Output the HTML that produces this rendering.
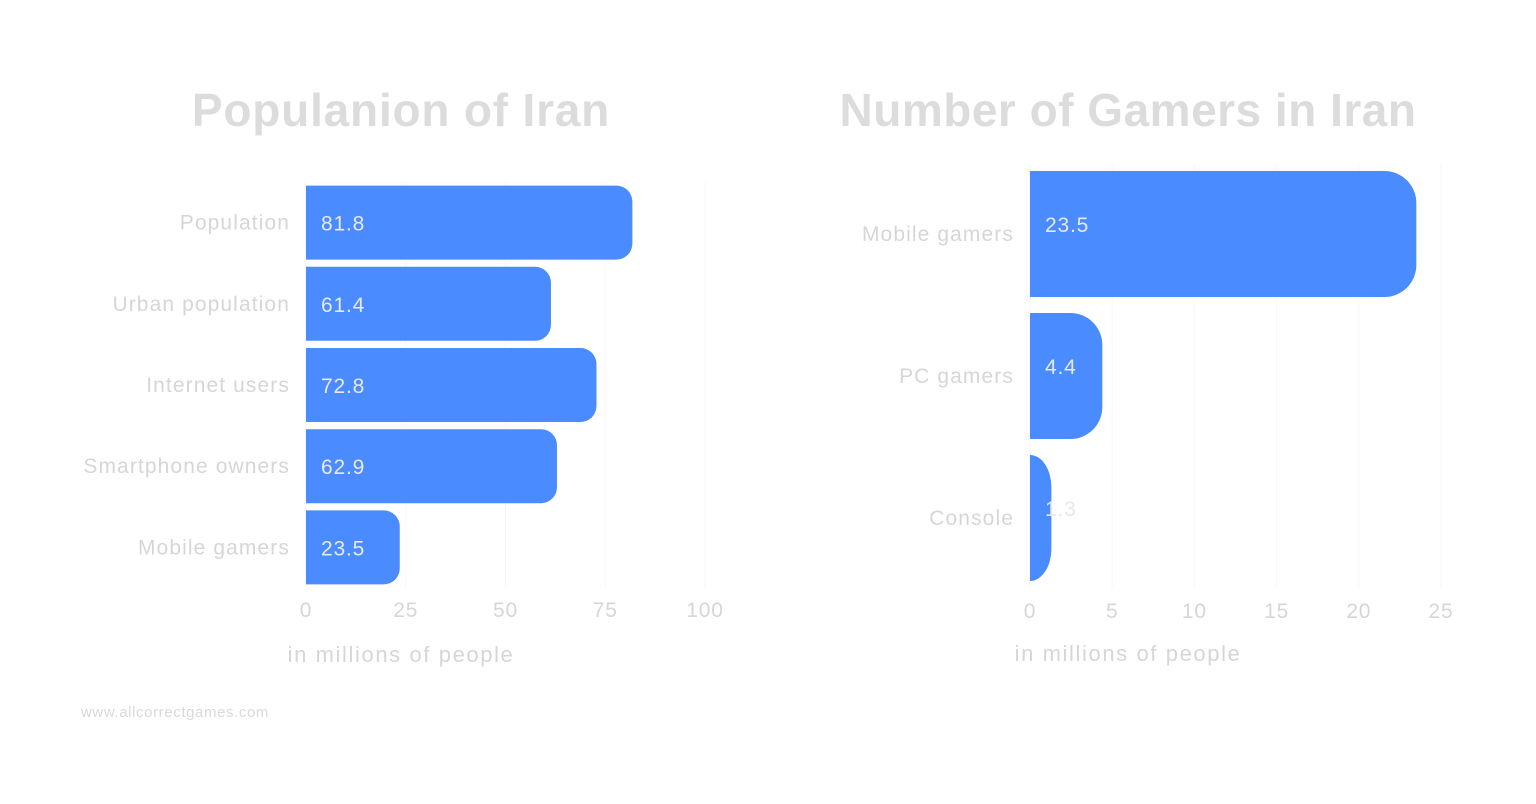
<!DOCTYPE html>
<html><head><meta charset="utf-8"><style>
html,body{margin:0;padding:0;background:#fff;}
svg{display:block;font-family:"Liberation Sans",sans-serif;}
</style></head><body>
<svg id="chart" width="1536" height="804" viewBox="0 0 1536 804">
<text x="401" y="126" text-anchor="middle" font-size="46" font-weight="bold" letter-spacing="0.8" fill="#dcdcdc">Populanion of Iran</text>
<text x="1128" y="126" text-anchor="middle" font-size="46" font-weight="bold" letter-spacing="0.5" fill="#dcdcdc">Number of Gamers in Iran</text>
<text x="401" y="662" text-anchor="middle" font-size="22" letter-spacing="1.6" fill="#d6d6d6">in millions of people</text>
<text x="1128" y="661" text-anchor="middle" font-size="22" letter-spacing="1.6" fill="#d6d6d6">in millions of people</text>
<text x="81" y="717" font-size="15" letter-spacing="0.6" fill="#d9d9d9">www.allcorrectgames.com</text>
<g id="g1"></g><g id="g2"></g>
</svg>
<script>
const leftCategories=["Population","Urban population","Internet users","Smartphone owners","Mobile gamers"];
const leftValues=[81.8,61.4,72.8,62.9,23.5];
const leftTicks=[0,25,50,75,100];
const rightCategories=["Mobile gamers","PC gamers","Console"];
const rightValues=[23.5,4.4,1.3];
const rightTicks=[0,5,10,15,20,25];
const NS="http://www.w3.org/2000/svg";
function mk(tag,attrs,parent){const e=document.createElementNS(NS,tag);for(const k in attrs)e.setAttribute(k,attrs[k]);parent.appendChild(e);return e;}
function draw(g,cats,vals,ticks,o){
  const x=v=>o.x0+(v-ticks[0])/(ticks[ticks.length-1]-ticks[0])*(o.x1-o.x0);
  const band=(o.yb-o.yt)/cats.length;
  ticks.forEach((t,i)=>{
    const l=mk('line',{x1:x(t),x2:x(t),y1:o.yt,y2:o.yb,stroke:'#f7f7f7','stroke-width':1},g);
    
    
    const tx=mk('text',{x:x(t),y:o.yb+29,'text-anchor':'middle','font-size':21,'letter-spacing':0.8,fill:'#d6d6d6'},g);
    tx.textContent=t;
    
    
  });
  cats.forEach((c,i)=>{
    const y=o.yt+i*band+(band-o.bh)/2, x0=x(0), w=x(vals[i])-x0;
    const rx=Math.min(o.r,w), ry=Math.min(o.r,o.bh/2);
    const d=`M${x0},${y}H${x0+w-rx}A${rx},${ry} 0 0 1 ${x0+w},${y+ry}V${y+o.bh-ry}A${rx},${ry} 0 0 1 ${x0+w-rx},${y+o.bh}H${x0}Z`;
    const p=mk('path',{d:d,fill:'#4a8cff'},g);
    
    
    const lb=mk('text',{x:o.x0-16,y:y+o.bh/2+7,'text-anchor':'end','font-size':21,'letter-spacing':1.1,fill:'#d6d6d6'},g);
    lb.textContent=c;
    
    
    const vl=mk('text',{x:x0+15,y:y+o.bh/2+o.vdy,'font-size':21,'letter-spacing':0.8,fill:'#e8e8e8'},g);
    vl.textContent=vals[i];
    
    
  });
}
draw(document.getElementById('g1'),leftCategories,leftValues,leftTicks,{x0:306,x1:705,yt:182,yb:588,bh:74,r:16,vdy:8});
draw(document.getElementById('g2'),rightCategories,rightValues,rightTicks,{x0:1030,x1:1441,yt:163,yb:589,bh:126,r:32,vdy:-2});
</script>
</body></html>
